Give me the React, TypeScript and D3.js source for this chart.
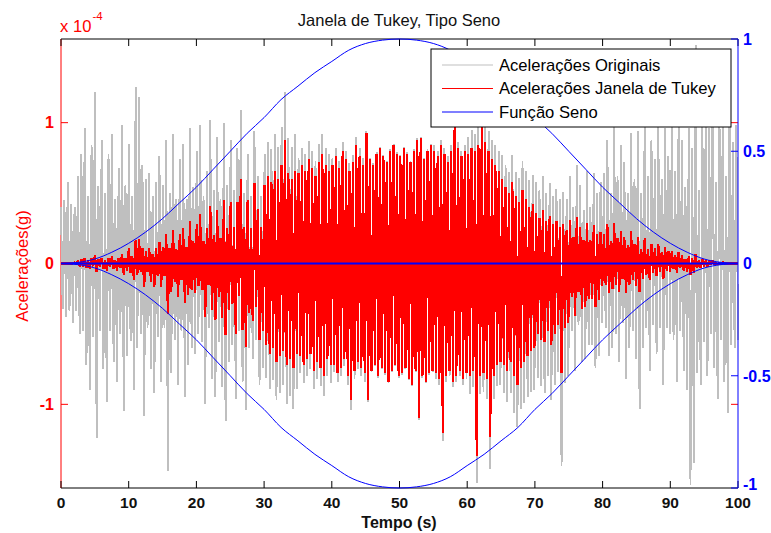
import React from 'react';
import * as d3 from 'd3';

// ---------- DATA (accelerations in units of 1e-6 g, one sample every ~0.25 s) ----------
const xTickValues = [0, 10, 20, 30, 40, 50, 60, 70, 80, 90, 100];
const xTickLabels = ['0', '10', '20', '30', '40', '50', '60', '70', '80', '90', '100'];
const leftTickValues = [-100, 0, 100];
const leftTickLabels = ['-1', '0', '1'];
const rightTickValues = [-1, -0.5, 0, 0.5, 1];
const rightTickLabels = ['-1', '-0.5', '0', '0.5', '1'];
const legendLabels = ['Acelerações Originais', 'Acelerações Janela de Tukey', 'Função Seno'];

const originalAccel = [
  40, -32, 45, -38, 58, -34, 42, -42, 40, -34, 62, -50, 78, -48, 96, -72, 48, -90, 84, -52,
  122, -124, 55, -48, 88, -75, 50, -98, 78, -48, 92, -70, 46, -84, 68, -50, 98, -105, 56, -66,
  85, -55, 48, -90, 125, -60, 118, -50, 70, -108, 60, -46, 64, -75, 48, -92, 58, -52, 76, -84,
  56, -46, 88, -147, 50, -78, 92, -54, 46, -86, 74, -48, 85, -95, 46, -72, 96, -60, 54, -64,
  80, -50, 98, -56, 48, -100, 66, -46, 102, -82, 52, -95, 90, -56, 46, -88, 100, -112, 56, -70,
  88, -58, 52, -96, 82, -48, 109, -84, 50, -104, 78, -60, 48, -68, 94, -54, 62, -86, 48, -74,
  78, -81, 86, -89, 81, -83, 92, -97, 83, -92, 97, -86, 122, -100, 89, -94, 83, -103, 92, -89,
  75, -78, 82, -85, 78, -80, 87, -75, 80, -89, 73, -82, 85, -87, 92, -94, 82, -80, 78, -85,
  75, -77, 82, -84, 73, -80, 86, -73, 80, -86, 71, -104, 77, -82, 90, -75, 82, -80, 75, -84,
  94, -98, 75, -77, 71, -73, 79, -81, 83, -75, 77, -79, 73, -85, 81, -77, 85, -73, 79, -81,
  77, -79, 83, -75, 79, -83, 73, -87, 81, -77, 89, -111, 90, -81, 75, -85, 81, -79, 85, -77,
  84, -82, 80, -86, 88, -126, 82, -84, 76, -80, 84, -88, 102, -84, 86, -80, 80, -86, 84, -82,
  90, -93, 95, -88, 92, -156, 97, -93, 116, -91, 101, -96, 94, -146, 88, -96, 84, -87, 80, -86,
  77, -92, 70, -98, 65, -92, 77, -106, 65, -116, 61, -103, 73, -99, 66, -95, 59, -91, 63, -90,
  58, -81, 52, -87, 62, -92, 50, -80, 57, -97, 48, -86, 53, -77, 46, -144, 51, -85, 46, -80,
  62, -48, 40, -76, 70, -44, 56, -70, 38, -68, 66, -58, 40, -58, 64, -74, 50, -66, 58, -42,
  64, -46, 88, -66, 50, -60, 98, -50, 62, -70, 84, -42, 72, -82, 50, -60, 93, -48, 60, -68,
  94, -103, 50, -60, 100, -46, 62, -76, 88, -44, 74, -64, 102, -46, 60, -86, 96, -46, 76, -50,
  98, -54, 66, -84, 104, -48, 88, -76, 54, -90, 96, -157, 82, -142, 155, -78, 52, -86, 100, -56,
  110, -80, 96, -50, 124, -74, 58, -96, 118, -54, 100, -84, 62, -106, 120, -58, 86, -60, 98, -54,
];

const tukeyAccel = [
  0, 0, 0, 0, 0, 0, 0, 0, 1, -1, 2, -2, 3, -2, 4, -3, 2, -4, 4, -2,
  6, -6, 3, -2, 4, -4, 2, -5, 4, -2, 5, -4, 2, -5, 4, -3, 7, -8, 4, -5,
  11, -7, 5, -12, 17, -8, 17, -6, 11, -17, 9, -6, 11, -13, 7, -17, 11, -9, 15, -17,
  12, -9, 21, -36, 11, -20, 24, -13, 10, -24, 21, -12, 25, -28, 12, -22, 30, -19, 16, -21,
  28, -16, 35, -19, 16, -38, 25, -15, 41, -33, 20, -40, 38, -24, 18, -39, 45, -51, 25, -33,
  44, -29, 26, -50, 44, -23, 60, -47, 26, -59, 45, -35, 25, -41, 57, -31, 39, -54, 26, -48,
  56, -58, 62, -64, 58, -60, 66, -70, 60, -66, 70, -62, 88, -72, 64, -68, 60, -74, 66, -64,
  64, -66, 70, -72, 66, -68, 74, -64, 68, -76, 62, -70, 72, -74, 78, -80, 70, -68, 66, -72,
  70, -72, 76, -78, 68, -74, 80, -68, 74, -80, 66, -97, 72, -76, 84, -70, 76, -74, 70, -78,
  93, -97, 74, -76, 70, -72, 78, -80, 82, -74, 76, -78, 72, -84, 80, -76, 84, -72, 78, -80,
  76, -78, 82, -74, 78, -82, 72, -86, 80, -76, 88, -110, 89, -80, 74, -84, 80, -78, 84, -76,
  80, -78, 76, -82, 84, -120, 78, -80, 72, -76, 80, -84, 97, -80, 82, -76, 76, -82, 80, -78,
  78, -80, 82, -76, 80, -137, 84, -80, 100, -78, 86, -82, 80, -123, 74, -80, 70, -72, 66, -70,
  60, -72, 54, -76, 50, -70, 58, -80, 48, -86, 44, -74, 52, -70, 46, -66, 40, -62, 42, -60,
  36, -50, 32, -54, 38, -56, 30, -48, 34, -58, 28, -50, 30, -44, 26, -78, 28, -46, 24, -42,
  31, -24, 19, -37, 33, -20, 26, -32, 17, -31, 29, -25, 17, -25, 27, -31, 21, -26, 22, -16,
  21, -15, 28, -21, 16, -18, 29, -15, 18, -20, 23, -11, 19, -21, 13, -15, 23, -12, 14, -16,
  19, -20, 10, -11, 18, -8, 10, -12, 14, -7, 11, -9, 14, -6, 8, -11, 12, -5, 9, -6,
  9, -4, 6, -7, 8, -3, 6, -5, 3, -6, 5, -8, 4, -7, 7, -3, 2, -3, 3, -2,
  2, -2, 2, -1, 2, -1, 1, -1, 1, -1, 1, 0, 0, 0, 0, 0, 0, 0, 0, 0,
];

// sine window, sampled every 2.5 s
const windowTime = [
  0, 2.5, 5, 7.5, 10, 12.5, 15, 17.5, 20, 22.5, 25, 27.5, 30, 32.5, 35, 37.5, 40, 42.5, 45, 47.5, 50,
  52.5, 55, 57.5, 60, 62.5, 65, 67.5, 70, 72.5, 75, 77.5, 80, 82.5, 85, 87.5, 90, 92.5, 95, 97.5, 100,
];
const windowValues = [
  0, 0.005, 0.02, 0.05, 0.09, 0.14, 0.2, 0.27, 0.34, 0.42, 0.5, 0.58, 0.65, 0.73, 0.79, 0.85, 0.9, 0.95, 0.98, 0.995, 1,
  0.995, 0.98, 0.95, 0.9, 0.85, 0.79, 0.73, 0.65, 0.58, 0.5, 0.42, 0.34, 0.27, 0.2, 0.14, 0.09, 0.05, 0.02, 0.005, 0,
];

const FONT = "'Liberation Sans', Arial, Helvetica, sans-serif";
const GRAY = '#bfbfbf';
const RED = '#ff0000';
const BLUE = '#0000ff';

export default function App() {
  const W = 771;
  const H = 533;
  const L = 61, R = 738, T = 39, B = 488;

  const x = d3.scaleLinear().domain([0, 100]).range([L, R]);
  const yL = d3.scaleLinear().domain([-159.4, 159.4]).range([B, T]);
  const yR = d3.scaleLinear().domain([-1, 1]).range([B, T]);

  const n = originalAccel.length;
  const tAt = (i: number) => (i * 100) / (n - 1);
  const accLine = d3.line<number>().x((_, i) => x(tAt(i))).y((d) => yL(d));
  const winUp = d3.line<number>().x((_, i) => x(windowTime[i])).y((d) => yR(d)).curve(d3.curveMonotoneX);
  const winDown = d3.line<number>().x((_, i) => x(windowTime[i])).y((d) => yR(-d)).curve(d3.curveMonotoneX);

  const tickLen = 7;
  const legendColors = [GRAY, RED, BLUE];
  const lgX = 431, lgY = 49, lgW = 300, lgH = 78;

  return (
    <svg width={W} height={H} style={{ position: 'absolute', left: 0, top: 0, background: '#fff' }} fontFamily={FONT}>
      <rect x={0} y={0} width={W} height={H} fill="#fff" />
      {/* axes 1 frame */}
      <line x1={L} x2={R} y1={T} y2={T} stroke="#000" strokeWidth={1} />
      <line x1={L} x2={R} y1={B} y2={B} stroke="#000" strokeWidth={1} />
      <line x1={L} x2={L} y1={T} y2={B} stroke={RED} strokeWidth={1} />
      {xTickValues.map((v) => (
        <g key={'xt' + v}>
          <line x1={x(v)} x2={x(v)} y1={B} y2={B - tickLen} stroke="#000" />
          <line x1={x(v)} x2={x(v)} y1={T} y2={T + tickLen} stroke="#000" />
        </g>
      ))}
      {leftTickValues.map((v) => (
        <g key={'lt' + v}>
          <line x1={L} x2={L + tickLen} y1={yL(v)} y2={yL(v)} stroke={RED} />
          <line x1={R} x2={R - tickLen} y1={yL(v)} y2={yL(v)} stroke={RED} />
        </g>
      ))}

      {/* data */}
      <path d={accLine(originalAccel) || ''} fill="none" stroke={GRAY} strokeWidth={1.9} strokeLinejoin="bevel" shapeRendering="crispEdges" />
      <path d={accLine(tukeyAccel) || ''} fill="none" stroke={RED} strokeWidth={2.2} strokeLinejoin="bevel" shapeRendering="crispEdges" />

      {/* axes 2 (right, blue) */}
      <line x1={R} x2={R} y1={T} y2={B} stroke={BLUE} strokeWidth={1} />
      {rightTickValues.map((v) => (
        <line key={'rt' + v} x1={R} x2={R - tickLen} y1={yR(v)} y2={yR(v)} stroke={BLUE} />
      ))}
      <path d={winUp(windowValues) || ''} fill="none" stroke={BLUE} strokeWidth={1} />
      <path d={winDown(windowValues) || ''} fill="none" stroke={BLUE} strokeWidth={1} />
      <line x1={L} x2={R} y1={yR(0)} y2={yR(0)} stroke={BLUE} strokeWidth={2} />

      {/* legend */}
      <rect x={lgX} y={lgY} width={lgW} height={lgH} fill="#fff" stroke="#000" strokeWidth={1} />
      {legendLabels.map((lab, i) => {
        const cy = 65 + i * 23.5;
        return (
          <g key={lab}>
            <line x1={442} x2={493} y1={cy} y2={cy} stroke={legendColors[i]} strokeWidth={1.2} />
            <text x={499} y={cy} dy="0.35em" fontSize={16.6} fill="#000">{lab}</text>
          </g>
        );
      })}

      {/* tick labels */}
      {xTickValues.map((v, i) => (
        <text key={'xl' + v} x={x(v)} y={508} textAnchor="middle" fontSize={15.5} fontWeight="bold" fill="#111">
          {xTickLabels[i]}
        </text>
      ))}
      {leftTickValues.map((v, i) => (
        <text key={'ll' + v} x={54} y={yL(v)} dy="0.36em" textAnchor="end" fontSize={16} fontWeight="bold" fill={RED}>
          {leftTickLabels[i]}
        </text>
      ))}
      {rightTickValues.map((v, i) => (
        <text key={'rl' + v} x={743} y={v === -1 ? yR(v) - 4 : yR(v)} dy="0.36em" textAnchor="start" fontSize={16} fontWeight="bold" fill={BLUE}>
          {rightTickLabels[i]}
        </text>
      ))}

      {/* exponent */}
      <text x={60} y={31.5} fontSize={16.6} fill={RED}>
        x 10
        <tspan x={92.5} y={20} fontSize={11.5}>-4</tspan>
      </text>

      {/* titles */}
      <text x={399} y={26} textAnchor="middle" fontSize={16.5} fill="#111">Janela de Tukey, Tipo Seno</text>
      <text x={399} y={528} textAnchor="middle" fontSize={16} fontWeight="bold" fill="#111">Tempo (s)</text>
      <text transform="translate(22,266) rotate(-90)" textAnchor="middle" dy="0.35em" fontSize={16.6} fill={RED}>
        Acelerações(g)
      </text>
    </svg>
  );
}
